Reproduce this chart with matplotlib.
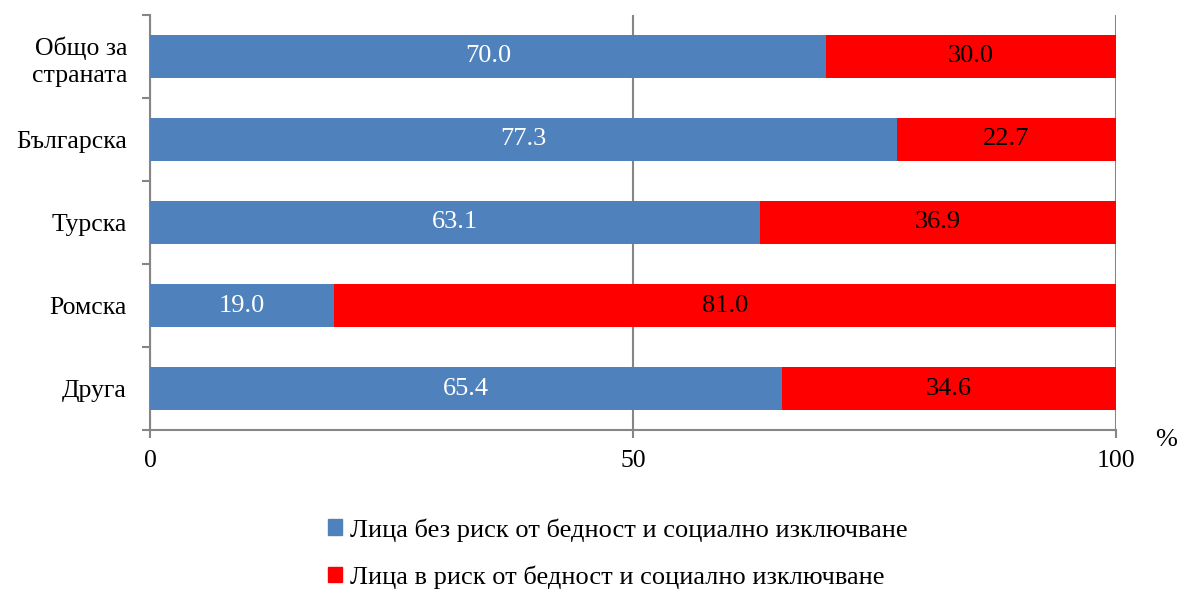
import matplotlib.pyplot as plt
from matplotlib.patches import Patch
import numpy as np

plt.rcParams['font.family'] = ['Liberation Serif', 'DejaVu Serif']

categories = ["Общо за\nстраната", "Българска", "Турска", "Ромска", "Друга"]
no_risk = [70.0, 77.3, 63.1, 19.0, 65.4]
at_risk = [30.0, 22.7, 36.9, 81.0, 34.6]
labels = ["Лица без риск от бедност и социално изключване",
          "Лица в риск от бедност и социално изключване"]

blue = '#4F81BD'
red = '#FF0000'
grey = '#868686'

fig = plt.figure(figsize=(11.81, 5.9), dpi=100)
ax = fig.add_axes([0.127, 0.271, 0.818, 0.704])

y = np.arange(len(categories))
b1 = ax.barh(y, no_risk, height=0.52, color=blue, zorder=3)
b2 = ax.barh(y, at_risk, left=no_risk, height=0.52, color=red, zorder=3)

for rect, v in zip(b1, no_risk):
    ax.text(rect.get_x() + rect.get_width() / 2, rect.get_y() + rect.get_height() / 2,
            f"{v:.1f}", ha='center', va='center', color='white', fontsize=19, zorder=4)
for rect, v in zip(b2, at_risk):
    ax.text(rect.get_x() + rect.get_width() / 2, rect.get_y() + rect.get_height() / 2,
            f"{v:.1f}", ha='center', va='center', color='black', fontsize=19, zorder=4)

ax.set_xlim(0, 100)
ax.set_ylim(len(categories) - 0.5, -0.5)
ax.set_xticks([0, 50, 100])
ax.set_xticklabels(['0', '50', '100'], fontsize=18.5)
ax.set_yticks(np.arange(-0.5, len(categories)))
ax.set_yticklabels([])
ax.set_yticks(y, minor=True)
ax.set_yticklabels(categories, minor=True, fontsize=18.5, linespacing=1.3)
ax.tick_params(axis='y', which='minor', length=0, pad=16.5)
ax.tick_params(axis='y', which='major', length=6, width=1.5, color=grey, direction='out')
ax.tick_params(axis='x', length=6, width=1.5, color=grey, direction='out', pad=8)

for s in ['top', 'right']:
    ax.spines[s].set_visible(False)
for s in ['left', 'bottom']:
    ax.spines[s].set_color(grey)
    ax.spines[s].set_linewidth(1.5)

ax.grid(axis='x', color=grey, linewidth=1.5, zorder=0)
ax.yaxis.grid(False)

fig.text(0.987, 0.255, '%', fontsize=19, ha='center', va='center')

handles = [Patch(color=blue), Patch(color=red)]
fig.legend(handles, labels, loc='center', bbox_to_anchor=(0.523, 0.062), ncol=1,
           frameon=False, fontsize=19, handlelength=0.55, handleheight=0.55,
           handletextpad=0.3, labelspacing=0.9, alignment='left',
           borderpad=0, borderaxespad=0)

fig.savefig('out.png', dpi=100)
